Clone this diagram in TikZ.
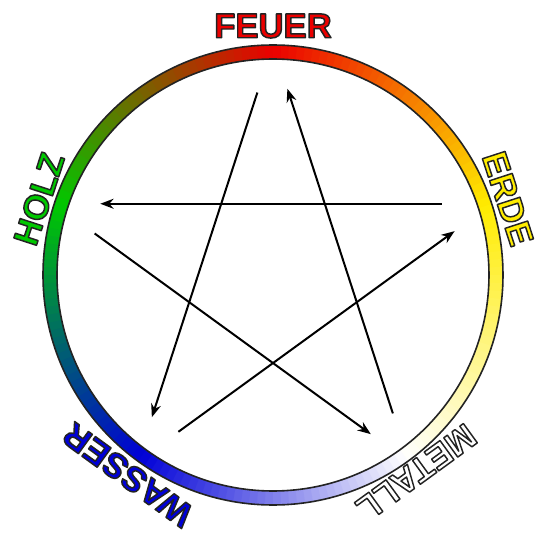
\documentclass[tikz,border=0pt]{standalone}
\usepackage{fontspec}
\setmainfont{Liberation Sans}
\usetikzlibrary{calc,arrows.meta}

\definecolor{feuerred}{RGB}{235,0,0}
\definecolor{erdeyellow}{RGB}{255,236,0}
\definecolor{wasserblue}{RGB}{0,0,215}
\definecolor{holzgreen}{RGB}{0,200,0}
\definecolor{ringline}{RGB}{35,35,35}

% letters filled in the text colour and stroked in dark grey
\newcommand{\outlined}[1]{\special{pdf:code q 2 Tr 1.1 w 1 j 0.137 0.137 0.137 RG}#1\special{pdf:code Q}}

\tikzset{element/.style={font=\bfseries\fontsize{26}{26}\selectfont, inner sep=0pt}}

\begin{document}
\begin{tikzpicture}[x=0.75pt,y=0.75pt,line join=round,>={Stealth[length=10pt,width=7.5pt]}]
	\useasboundingbox (-273,-258) rectangle (264,275);

	% 1. Colour ring, one small sector at a time
	\foreach \a/\ca/\cb in {162/holzgreen/feuerred, 90/feuerred/erdeyellow, 18/erdeyellow/white, -54/white/wasserblue, -126/wasserblue/holzgreen}{
		\foreach \k in {0,...,35}{
			\pgfmathsetmacro\angA{\a-2*\k}
			\pgfmathsetmacro\angB{\a-2*\k-2.4}
			\pgfmathsetmacro\pct{100-(\k+0.5)*100/36}
			\fill[\ca!\pct!\cb] (\angA:216) arc[start angle=\angA, end angle=\angB, radius=216]
				-- (\angB:230) arc[start angle=\angB, end angle=\angA, radius=230] -- cycle;
		}
	}
	% Ring outlines
	\draw[ringline, line width=1.2pt] (0,0) circle[radius=216] (0,0) circle[radius=230];

	% 2. Star corners
	\foreach \n/\w in {feuer/90, erde/18, metall/-54, wasser/-126, holz/162}
		\coordinate (\n) at (\w:190);

	% 3. Star arrows, each moved a little outwards
	\foreach \from/\to in {feuer/wasser, metall/feuer, erde/holz, holz/metall, wasser/erde}
		\draw[->, line width=1.5pt, shorten <=9pt, shorten >=6pt]
			($(\from)!9.4pt!-90:(\to)$) -- ($(\to)!9.4pt!90:(\from)$);

	% 4. Labels round the ring
	\node[element, text=feuerred] (feuerlabel) at (90:249) {\outlined{FEUER}};
	\node[element, text=erdeyellow, rotate=-72] (erdelabel) at (18:247) {\outlined{ERDE}};
	\node[element, text=white, rotate=-144] (metalllabel) at (-54:244) {\outlined{METALL}};
	\node[element, text=wasserblue, rotate=144] (wasserlabel) at (-126:247) {\outlined{WASSER}};
	\node[element, text=holzgreen, rotate=72] (holzlabel) at (162:246) {\outlined{HOLZ}};
\end{tikzpicture}
\end{document}
